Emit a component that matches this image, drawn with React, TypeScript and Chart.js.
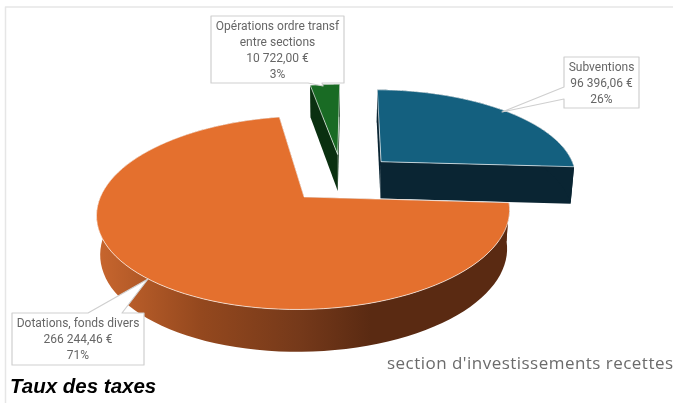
import React, { useEffect, useRef } from "react";
import { Chart, registerables } from "chart.js";

Chart.register(...registerables);

const categories = ["Subventions", "Dotations, fonds divers", "Opérations ordre transf entre sections"];
const values = [96396.06, 266244.46, 10722.0];
const labelLines = [
  ["Subventions", "96 396,06 €", "26%"],
  ["Dotations, fonds divers", "266 244,46 €", "71%"],
  ["Opérations ordre transf", "entre sections", "10 722,00 €", "3%"],
];
const topColors = ["#14607F", "#E4702E", "#196B24"];
const wallColors = ["#0A2533", "#5A2A12", "#0A3010"];
const chartTitle = "Taux des taxes";
const chartSubtitle = "section d'investissements recettes";

const KV = 0.158;
const SQUASH = 0.447;
const SEG = 96;

// callout geometry: [x, y, w, h], tip polygon points, first text line centre, line height
const callouts = [
  { box: [564, 57, 75, 51], tip: [[564, 87], [502, 112], [564, 99]], side: "left" },
  { box: [12, 313, 132, 52], tip: [[122, 313], [148, 279], [88, 313]], side: "top" },
  { box: [211, 16, 133, 67], tip: [[322, 83], [323, 86], [308, 83]], side: "bottom" },
];

const pie3d = {
  id: "pie3d",
  beforeDatasetDraw(chart: any) {
    const ctx = chart.ctx as CanvasRenderingContext2D;
    const arcs = chart.getDatasetMeta(0).data;

    const plane = (el: any, r: number, a: number) => {
      const mid = (el.startAngle + el.endAngle) / 2;
      const e = (el.options.offset || 0) / el.outerRadius;
      return [e * Math.cos(mid) + r * Math.cos(a), -(e * Math.sin(mid) + r * Math.sin(a))];
    };
    const project = (el: any, r: number, a: number, low: boolean) => {
      const [u, v] = plane(el, r, a);
      const f = 1 / (1 + KV * v);
      const q = low ? 0.985 : 1;
      const depth = low ? 37.5 - 4 * v : 0;
      return [
        el.x + el.outerRadius * u * f * q,
        el.y - el.outerRadius * SQUASH * v * f + depth,
      ];
    };
    const poly = (pts: number[][]) => {
      ctx.beginPath();
      pts.forEach((p, i) => (i ? ctx.lineTo(p[0], p[1]) : ctx.moveTo(p[0], p[1])));
      ctx.closePath();
    };

    // painter's order: back slices first
    [2, 0, 1].forEach((i) => {
      const el = arcs[i];
      const rim: number[][] = [];
      const rimLow: number[][] = [];
      for (let s = 0; s <= SEG; s++) {
        const a = el.startAngle + ((el.endAngle - el.startAngle) * s) / SEG;
        rim.push(project(el, 1, a, false));
        rimLow.push(project(el, 1, a, true));
      }
      const apex = project(el, 0, 0, false);
      const apexLow = project(el, 0, 0, true);

      let wall: any = wallColors[i];
      if (i === 1) {
        const g = ctx.createLinearGradient(97, 0, 512, 0);
        g.addColorStop(0, "#C8662E");
        g.addColorStop(0.25, "#94481E");
        g.addColorStop(0.49, "#75391A");
        g.addColorStop(0.66, "#5A2A12");
        g.addColorStop(1, "#5A2A12");
        wall = g;
      }
      ctx.fillStyle = wall;
      poly([apex, rim[0], rimLow[0], apexLow]);
      ctx.fill();
      poly([apex, rim[SEG], rimLow[SEG], apexLow]);
      ctx.fill();
      poly([...rim, ...rimLow.slice().reverse()]);
      ctx.fill();

      poly([apex, ...rim]);
      ctx.fillStyle = el.options.backgroundColor;
      ctx.fill();
      ctx.strokeStyle = "rgba(255,255,255,0.65)";
      ctx.lineWidth = 1;
      ctx.lineJoin = "round";
      ctx.stroke();
    });
    return false;
  },
  afterDraw(chart: any) {
    const ctx = chart.ctx as CanvasRenderingContext2D;
    // frame
    ctx.strokeStyle = "#E6E6E6";
    ctx.lineWidth = 1.5;
    ctx.beginPath();
    ctx.moveTo(5.5, 403);
    ctx.lineTo(5.5, 7);
    ctx.lineTo(673, 7);
    ctx.stroke();

    callouts.forEach((c, i) => {
      const [x, y, w, h] = c.box;
      const t = c.tip;
      ctx.beginPath();
      ctx.moveTo(x, y);
      if (c.side === "top") {
        ctx.moveTo(t[2][0], y);
        ctx.lineTo(t[1][0], t[1][1]);
        ctx.lineTo(t[0][0], y);
        ctx.lineTo(x + w, y);
        ctx.lineTo(x + w, y + h);
        ctx.lineTo(x, y + h);
        ctx.lineTo(x, y);
      } else if (c.side === "left") {
        ctx.lineTo(x + w, y);
        ctx.lineTo(x + w, y + h);
        ctx.lineTo(x, y + h);
        ctx.lineTo(t[2][0], t[2][1]);
        ctx.lineTo(t[1][0], t[1][1]);
        ctx.lineTo(t[0][0], t[0][1]);
      } else {
        ctx.lineTo(x + w, y);
        ctx.lineTo(x + w, y + h);
        ctx.lineTo(t[0][0], t[0][1]);
        ctx.lineTo(t[1][0], t[1][1]);
        ctx.lineTo(t[2][0], t[2][1]);
        ctx.lineTo(x, y + h);
      }
      ctx.closePath();
      ctx.fillStyle = "#FFFFFF";
      ctx.fill();
      ctx.strokeStyle = "#CFCFCF";
      ctx.lineWidth = 1.2;
      ctx.stroke();

      ctx.fillStyle = "#666666";
      ctx.font = '12px "Liberation Sans Narrow", "Roboto", sans-serif';
      ctx.textAlign = "center";
      ctx.textBaseline = "middle";
      const lines = labelLines[i];
      lines.forEach((line, j) => {
        ctx.fillText(line, x + w / 2, y + 10.5 + j * 16);
      });
    });

    ctx.textAlign = "left";
    ctx.textBaseline = "alphabetic";
    ctx.fillStyle = "#6B6B6B";
    ctx.font = '17px "Open Sans", sans-serif';
    (ctx as any).letterSpacing = "0.47px";
    ctx.fillText(chartSubtitle, 387, 369);
    (ctx as any).letterSpacing = "0px";

    ctx.fillStyle = "#000000";
    ctx.font = 'italic bold 20.5px "Liberation Sans", Arial, sans-serif';
    ctx.fillText(chartTitle, 10, 393);
  },
};

export default function App() {
  const ref = useRef<HTMLCanvasElement>(null);
  useEffect(() => {
    const chart = new Chart(ref.current as HTMLCanvasElement, {
      type: "pie",
      data: {
        labels: categories,
        datasets: [
          {
            data: values,
            backgroundColor: topColors,
            borderWidth: 0,
            offset: [55, 55, 55],
          },
        ],
      },
      options: {
        responsive: false,
        animation: false,
        rotation: 0.5,
        radius: 197,
        layout: { padding: { left: 11, right: 0, top: 0, bottom: 47 } },
        plugins: { legend: { display: false }, tooltip: { enabled: false }, title: { display: false } },
      },
      plugins: [pie3d],
    } as any);
    return () => chart.destroy();
  }, []);
  return (
    <canvas
      ref={ref}
      width={673}
      height={403}
      style={{ position: "absolute", left: 0, top: 0, display: "block", background: "#FFFFFF" }}
    />
  );
}
